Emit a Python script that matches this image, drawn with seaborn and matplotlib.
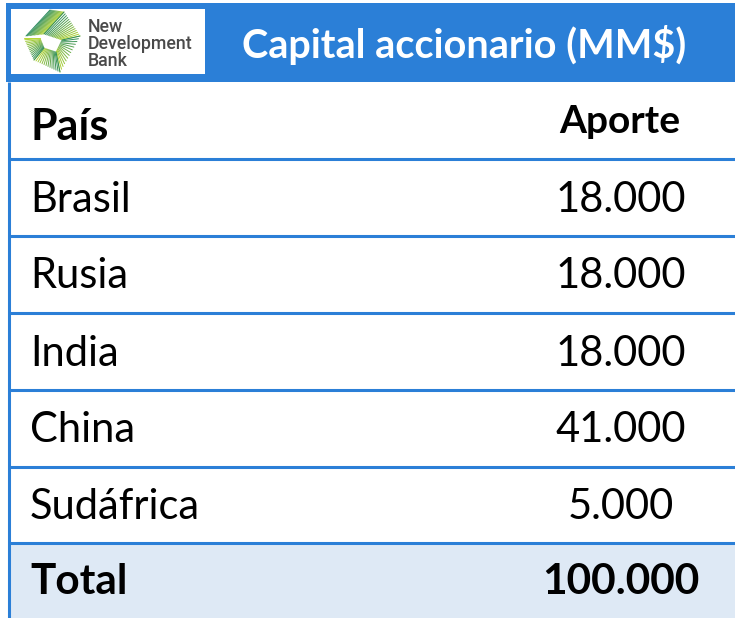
import matplotlib
matplotlib.use("Agg")
import matplotlib.pyplot as plt
import seaborn as sns
import numpy as np

sns.set_theme(style="white")
plt.rcParams['font.family'] = ['Lato', 'DejaVu Sans']

# ---- data ----
title = "Capital accionario (MM$)"
col_headers = ["País", "Aporte"]
countries = ["Brasil", "Rusia", "India", "China", "Sudáfrica"]
values = [18000, 18000, 18000, 41000, 5000]
total_label = "Total"
logo_lines = ["New", "Development", "Bank"]

def fmt(v):
    return f"{v:,}".replace(",", ".")

BLUE = "#2B7FD7"
LIGHT = "#DEE9F5"

W, H = 735, 618
fig = plt.figure(figsize=(W / 100, H / 100), dpi=100)
ax = fig.add_axes([0, 0, 1, 1])
ax.set_xlim(0, W)
ax.set_ylim(H, 0)
ax.axis("off")

# header band
ax.add_patch(plt.Rectangle((6, 3), W - 6, 79, color=BLUE, lw=0))
# logo box
ax.add_patch(plt.Rectangle((11, 9), 194, 65, color="white", lw=0))

# logo graphic (approximate ribbon shape)
def ribbon(p0, p1, q0, q1, n=14):
    for i in range(n):
        t = i / (n - 1)
        a = np.array(p0) * (1 - t) + np.array(p1) * t
        b = np.array(q0) * (1 - t) + np.array(q1) * t
        c = (1 - t) * np.array([0.18, 0.55, 0.38]) + t * np.array([0.72, 0.84, 0.20])
        ax.plot([a[0], b[0]], [a[1], b[1]], color=c, lw=0.7, solid_capstyle="round")

ribbon((50, 10), (64, 12), (26, 36), (44, 34))
ribbon((64, 12), (80, 36), (44, 34), (62, 40))
ribbon((80, 36), (60, 72), (62, 40), (56, 52))
ribbon((60, 72), (34, 60), (56, 52), (44, 48))
ribbon((34, 60), (24, 38), (44, 48), (40, 38))

for i, t in enumerate(logo_lines):
    ax.text(88, 27 + i * 17, t, fontsize=12.8, color="#4A4A4A", va="center",
            ha="left", family=["Roboto", "DejaVu Sans"], fontweight="medium")

# title
ax.text(464, 45, title, fontsize=28.5, fontweight="bold", color="white",
        ha="center", va="center")

# table
row_edges = [82, 159, 236, 313, 390, 467, 543, 618]
left_x = 30
num_x = 621

# total row fill
ax.add_patch(plt.Rectangle((9, row_edges[-2]), W - 9, row_edges[-1] - row_edges[-2],
                           color=LIGHT, lw=0))

# horizontal rules
for y in row_edges[1:-1]:
    ax.plot([9, W], [y, y], color=BLUE, lw=2.2, solid_capstyle="butt")
# left border
ax.plot([9, 9], [82, H], color=BLUE, lw=2.2, solid_capstyle="butt")

def center(i):
    return (row_edges[i] + row_edges[i + 1]) / 2 + 2

# header row
ax.text(left_x, center(0) + 4, col_headers[0], fontsize=31, fontweight="bold",
        color="black", ha="left", va="center")
ax.text(num_x - 1, center(0) - 1, col_headers[1], fontsize=28, fontweight="bold",
        color="black", ha="center", va="center")

for i, (c, v) in enumerate(zip(countries, values)):
    ax.text(left_x, center(i + 1), c, fontsize=30, color="black",
            ha="left", va="center")
    ax.text(num_x, center(i + 1), fmt(v), fontsize=30, color="black",
            ha="center", va="center")

ax.text(left_x, center(6), total_label, fontsize=30.5, fontweight="bold",
        color="black", ha="left", va="center")
ax.text(num_x, center(6), fmt(sum(values)), fontsize=30.5, fontweight="bold",
        color="black", ha="center", va="center")

fig.savefig("out.png", dpi=100)
